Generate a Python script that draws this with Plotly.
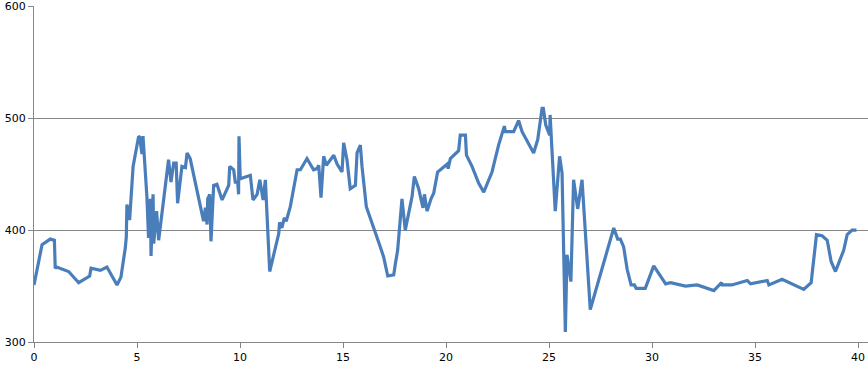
import plotly.graph_objects as go

x_vals = [0, 0.39, 0.79, 0.99, 1.03, 1.1, 1.68, 2.17, 2.7, 2.77, 3.22, 3.54, 4.03, 4.22,
          4.43, 4.48, 4.51, 4.64, 4.81, 4.97, 5.08, 5.13, 5.24, 5.29, 5.48, 5.56, 5.65,
          5.68, 5.78, 5.81, 5.9, 5.95, 6.05, 6.26, 6.37, 6.53, 6.65, 6.78, 6.9, 6.97,
          7.18, 7.35, 7.43, 7.58, 8.23, 8.32, 8.4, 8.43, 8.53, 8.59, 8.72, 8.88, 9.13,
          9.45, 9.5, 9.69, 9.77, 9.89, 9.93, 9.95, 10.01, 10.5, 10.63, 10.83, 10.96,
          11.12, 11.23, 11.44, 11.88, 11.92, 12.03, 12.15, 12.24, 12.44, 12.77, 12.93,
          13.25, 13.57, 13.74, 13.82, 13.93, 14.06, 14.19, 14.55, 14.71, 14.95, 15.03,
          15.19, 15.35, 15.6, 15.68, 15.84, 15.92, 16.03, 16.13, 16.81, 16.97, 17.17,
          17.46, 17.54, 17.65, 17.86, 18.02, 18.35, 18.46, 18.67, 18.88, 18.95, 19.08,
          19.27, 19.4, 19.59, 19.89, 20.05, 20.1, 20.21, 20.61, 20.69, 20.94, 20.99,
          21.26, 21.42, 21.58, 21.83, 22.23, 22.55, 22.83, 22.88, 23.28, 23.52, 23.69,
          24.25, 24.45, 24.66, 24.72, 24.84, 25.03, 25.05, 25.3, 25.51, 25.63, 25.79,
          25.87, 26.06, 26.19, 26.39, 26.6, 27.0, 28.14, 28.33, 28.46, 28.62, 28.79,
          28.98, 29.14, 29.23, 29.67, 30.08, 30.66, 30.9, 31.62, 32.19, 32.51, 33.0,
          33.37, 33.4, 33.87, 34.62, 34.78, 35.59, 35.67, 36.31, 37.36, 37.72, 37.98,
          38.25, 38.5, 38.69, 38.9, 39.3, 39.47, 39.71, 39.92]

y_vals = [351, 387, 392, 391, 366, 367, 363, 353, 359, 366, 364, 367, 351, 358,
          384, 394, 423, 409, 457, 475, 484, 483, 468, 484, 430, 393, 428,
          377, 432, 388, 408, 417, 391, 421, 439, 463, 443, 460, 460, 424,
          457, 456, 469, 464, 408, 420, 405, 428, 432, 390, 440, 441, 427,
          440, 457, 454, 443, 443, 432, 484, 446, 449, 427, 432, 445,
          427, 445, 363, 397, 407, 402, 411, 408, 421, 454, 454,
          464, 454, 455, 458, 429, 466, 458, 467, 459, 452, 478,
          463, 437, 440, 469, 476, 457, 436, 421, 385, 376, 359,
          360, 370, 382, 428, 400, 430, 448, 437, 420, 432, 417,
          428, 433, 452, 457, 459, 455, 464, 471, 485, 485, 467,
          457, 449, 442, 434, 452, 476, 493, 488, 488, 498, 488,
          469, 481, 509, 509, 494, 485, 503, 417, 466, 451, 309,
          378, 354, 445, 419, 445, 329, 402, 392, 392, 385, 365,
          351, 351, 348, 348, 368, 352, 353, 350, 351, 349, 346,
          353, 351, 351, 355, 352, 355, 351, 356, 347, 353, 396,
          395, 391, 372, 363, 382, 396, 400, 400]

x_ticks = [0, 5, 10, 15, 20, 25, 30, 35, 40]
y_ticks = [300, 400, 500, 600]

fig = go.Figure()
fig.add_trace(go.Scatter(
    x=x_vals, y=y_vals, mode="lines",
    line=dict(color="#4A7EBB", width=3.2, shape="linear"),
    hoverinfo="x+y", showlegend=False,
))

axis_gray = "#868686"
fig.update_layout(
    width=868, height=372,
    margin=dict(l=34, r=0, t=6, b=30),
    paper_bgcolor="white", plot_bgcolor="white",
    font=dict(family="DejaVu Sans", size=11, color="#000000"),
    xaxis=dict(
        range=[0, 40.48], tickvals=x_ticks, ticktext=[str(v) for v in x_ticks],
        showgrid=False, zeroline=False,
        showline=True, linecolor=axis_gray, linewidth=1,
        ticks="outside", ticklen=5, tickcolor=axis_gray, tickwidth=1,
    ),
    yaxis=dict(
        range=[300, 600.4], tickvals=y_ticks, ticktext=[str(v) for v in y_ticks],
        showgrid=True, gridcolor=axis_gray, gridwidth=1, zeroline=False,
        showline=True, linecolor=axis_gray, linewidth=1,
        ticks="outside", ticklen=5, tickcolor=axis_gray, tickwidth=1,
    ),
)

fig.write_html("out.html")
